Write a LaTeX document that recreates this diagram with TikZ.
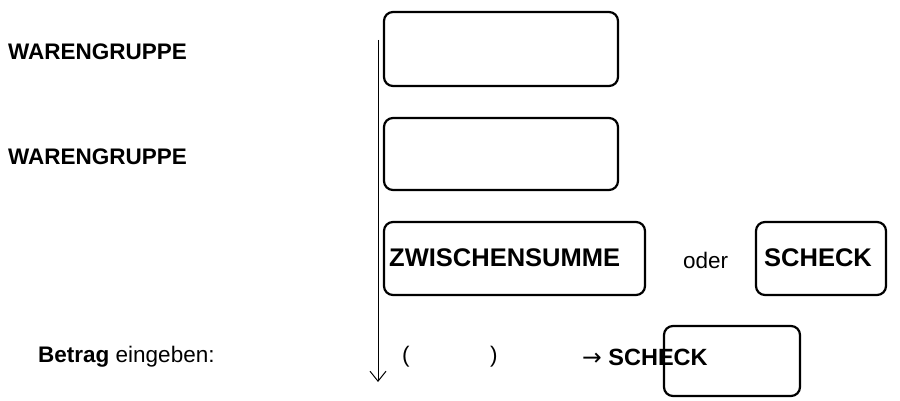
\documentclass[tikz,border=0pt]{standalone}
\usepackage{fontspec}
\setmainfont{Liberation Sans}
\newfontfamily\symfont{DejaVu Sans}
\usetikzlibrary{arrows.meta}
\begin{document}
\begin{tikzpicture}[x=1pt,y=-1pt,
  keybox/.style={draw=black,line width=2.2pt,rounded corners=9pt},
  lbl/.style={font=\fontsize{22.5}{26}\selectfont,inner sep=0pt,anchor=west},
  big/.style={font=\fontsize{25.5}{28}\selectfont\bfseries}]
\useasboundingbox (0,0) rectangle (900,401);
\node[lbl,font=\fontsize{22.5}{26}\selectfont\bfseries] (w1) at (8,52) {WARENGRUPPE};
\node[lbl,font=\fontsize{22.5}{26}\selectfont\bfseries] (w2) at (8,157) {WARENGRUPPE};
\coordinate (atop) at (378,40);
\coordinate (abot) at (378,382);
\draw[line width=1pt,-{Straight Barb[length=10pt,width=16pt]}] (atop) -- (abot);
\draw[keybox] (384,12) rectangle (618,86);
\draw[keybox] (384,118) rectangle (618,190);
\draw[keybox] (384,222) rectangle (645,295);
\node[lbl,big] (zs) at (389,258) {ZWISCHENSUMME};
\node[lbl] (oder) at (683,260) {oder};
\draw[keybox] (756,222) rectangle (886,295);
\node[lbl,big] (sc) at (764,258) {SCHECK};
\node[lbl] (betrag) at (38,357) {\textbf{Betrag} eingeben:};
\node[lbl] (pl) at (402,357) {(};
\node[lbl] (pr) at (490,357) {)};
\draw[keybox] (664,326) rectangle (800,396);
\node[lbl,font=\fontsize{23.5}{26}\selectfont\bfseries] (arr) at (582,357) {{\symfont\mdseries →} SCHECK};
\end{tikzpicture}
\end{document}
